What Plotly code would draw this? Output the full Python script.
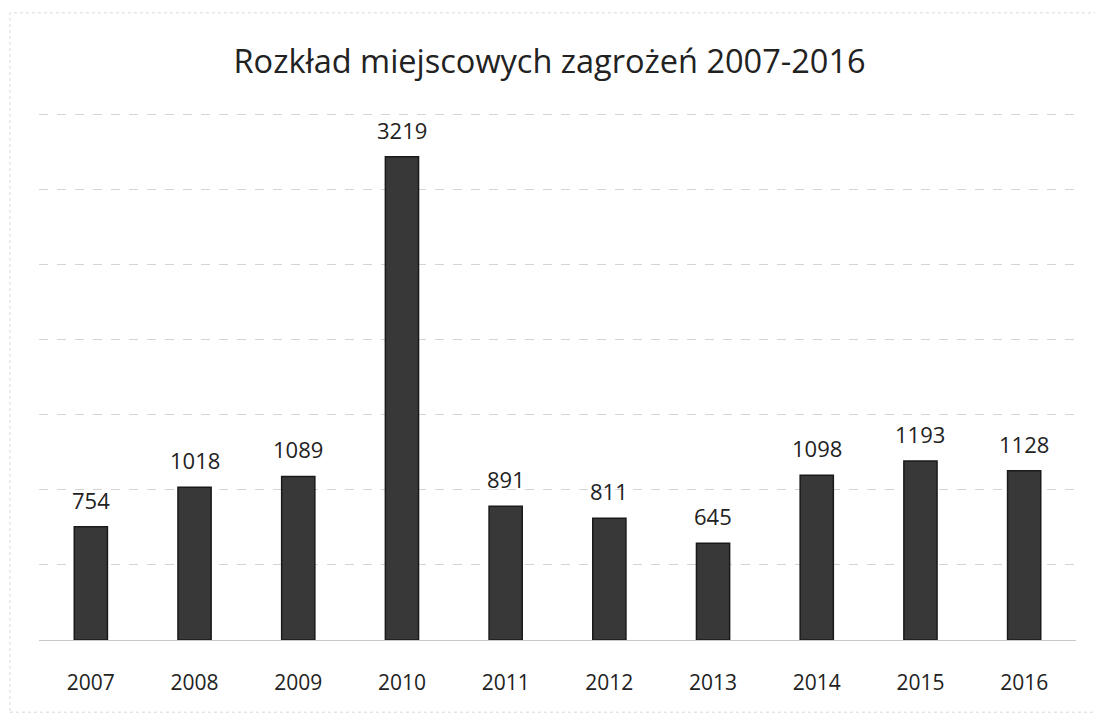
import plotly.graph_objects as go

years = ["2007", "2008", "2009", "2010", "2011", "2012", "2013", "2014", "2015", "2016"]
values = [754, 1018, 1089, 3219, 891, 811, 645, 1098, 1193, 1128]
title_text = "Rozkład miejscowych zagrożeń 2007-2016"

FONT = "Open Sans, Lato, sans-serif"

fig = go.Figure()
fig.add_trace(go.Bar(
    x=years, y=values,
    marker=dict(color="#383838", line=dict(color="#1a1a1a", width=1.5)),
))

annotations = [
    dict(x=i, y=v, xref="x", yref="y", text=str(v), showarrow=False,
         yanchor="bottom", yshift=10,
         font=dict(family=FONT, size=22, color="#222222"))
    for i, v in enumerate(values)
]

fig.update_layout(
    width=1103, height=716,
    paper_bgcolor="white", plot_bgcolor="white",
    margin=dict(l=31, r=35, t=105, b=84),
    bargap=0.68,
    showlegend=False,
    title=dict(text=title_text, x=0.491, xanchor="center", y=0.925, yanchor="middle",
               font=dict(family=FONT, size=32.5, color="#222222")),
    xaxis=dict(type="category", range=[-0.5, len(years) - 0.5], showgrid=False, showline=False,
               ticks="", ticklabelstandoff=28,
               tickfont=dict(family=FONT, size=21, color="#222222")),
    yaxis=dict(range=[0, 3510], dtick=500, showticklabels=False, showline=False,
               gridcolor="#d4d4d4", gridwidth=1, griddash="dash", zeroline=True,
               zerolinecolor="#c8c8c8", zerolinewidth=1),
    annotations=annotations,
    shapes=[dict(type="rect", xref="paper", yref="paper", x0=-0.028, x1=1.021, y0=-0.137, y1=1.19,
                 line=dict(color="#d8d8d8", width=1, dash="dot"))],
)

fig.write_html("out.html")
